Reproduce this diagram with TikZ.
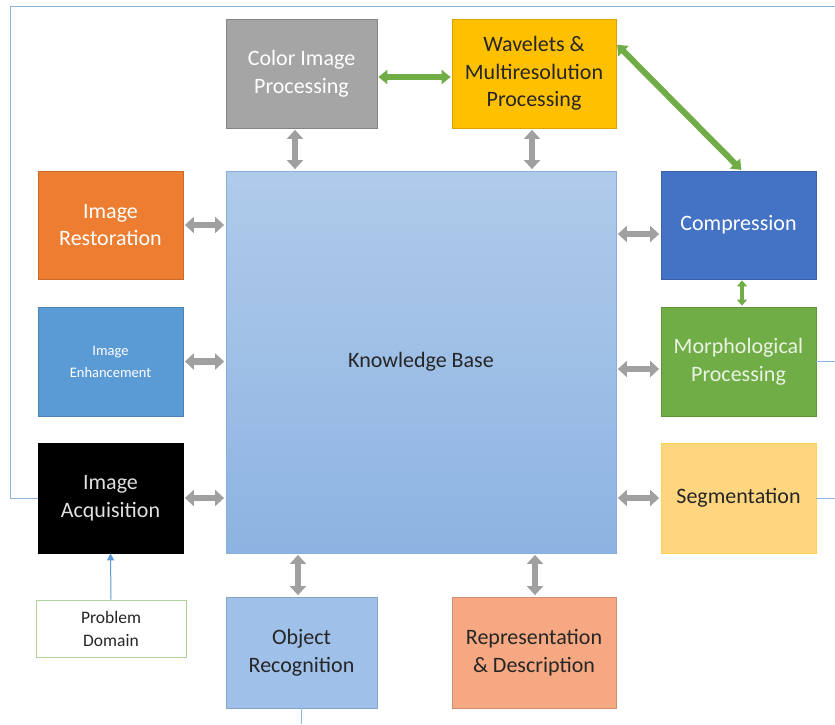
\documentclass[tikz,border=0pt]{standalone}
\usepackage{fontspec}
\setmainfont{Carlito}
\usetikzlibrary{arrows.meta}
\definecolor{cgray}{HTML}{A5A5A5}
\definecolor{cgold}{HTML}{FFC000}
\definecolor{corange}{HTML}{ED7D31}
\definecolor{cblue}{HTML}{5B9BD5}
\definecolor{cdblue}{HTML}{4472C4}
\definecolor{cgreen}{HTML}{70AD47}
\definecolor{cyellow}{HTML}{FFD680}
\definecolor{clblue}{HTML}{9FC0E8}
\definecolor{csalmon}{HTML}{F5A882}
\definecolor{kbtop}{HTML}{B0CBEA}
\definecolor{kbbot}{HTML}{8DB3E2}
\definecolor{kbline}{HTML}{8AAEDB}
\definecolor{lnblue}{HTML}{8FB4DD}
\definecolor{darktxt}{HTML}{262626}
\definecolor{arrgray}{HTML}{A0A0A0}
\begin{document}
\begin{tikzpicture}[x=1pt,y=-1pt,
  box/.style={draw, line width=0.8pt, align=center, inner sep=0pt,
    font=\fontsize{22}{27.5}\selectfont},
  garrow/.style={arrgray, line width=6.5pt,
    {Triangle[width=16pt,length=9pt]}-{Triangle[width=16pt,length=9pt]},
    shorten <=1.5pt, shorten >=1.5pt},
  grarrow/.style={cgreen, line width=6pt,
    {Triangle[width=14pt,length=9pt]}-{Triangle[width=14pt,length=9pt]},
    shorten <=1pt, shorten >=1pt},
  thinline/.style={lnblue, line width=1pt}]
\useasboundingbox (0,0) rectangle (835,724);
\fill[white] (0,0) rectangle (835,724);

% boxes
\node[box, fill=cgray, draw=cgray!80!black, text=white, minimum width=151pt, minimum height=109pt]
  (color) at (301.5,73.5) {Color Image\\Processing};
\node[box, fill=cgold, draw=cgold!85!black, text=darktxt, minimum width=164pt, minimum height=109pt]
  (wave) at (534,73.5) {Wavelets \&\\Multiresolution\\Processing};
\node[box, top color=kbtop, bottom color=kbbot, draw=kbline, text=darktxt, minimum width=390pt, minimum height=382pt]
  (kb) at (421,362) {Knowledge Base};
\node[box, fill=corange, draw=corange!85!black, text=white, minimum width=145pt, minimum height=108pt]
  (rest) at (110.5,225) {Image\\Restoration};
\node[box, fill=cblue, draw=cblue!85!black, text=white, minimum width=145pt, minimum height=109pt,
  font=\fontsize{14.5}{22}\selectfont]
  (enh) at (110.5,361.5) {Image\\Enhancement};
\node[box, fill=black, draw=black, text=white!88!black, minimum width=145pt, minimum height=110pt]
  (acq) at (110.5,498) {Image\\Acquisition};
\node[box, fill=cdblue, draw=cdblue!85!black, text=white, minimum width=155pt, minimum height=108pt]
  (comp) at (738.5,225) {Compression};
\node[box, fill=cgreen, draw=cgreen!85!black, text=white!85!cgreen, minimum width=155pt, minimum height=109pt]
  (morph) at (738.5,361.5) {Morphological\\Processing};
\node[box, fill=cyellow, draw=cgold!70!white, text=darktxt, minimum width=155pt, minimum height=110pt]
  (seg) at (738.5,498) {Segmentation};
\node[box, fill=white, draw=cgreen!55!white, text=darktxt, minimum width=150pt, minimum height=57pt,
  font=\fontsize{17.5}{23}\selectfont]
  (prob) at (111,628.5) {Problem\\Domain};
\node[box, fill=clblue, draw=clblue!85!black, text=darktxt, minimum width=151pt, minimum height=111pt]
  (obj) at (301.5,652.5) {Object\\Recognition};
\node[box, fill=csalmon, draw=csalmon!85!black, text=darktxt, minimum width=164pt, minimum height=111pt]
  (rep) at (534,652.5) {Representation\\\& Description};

% gray connectors to knowledge base
\draw[garrow] ([xshift=-6.5pt]color.south) -- ([xshift=-6.5pt]color.south |- kb.north);
\draw[garrow] ([xshift=-2pt]wave.south) -- ([xshift=-2pt]wave.south |- kb.north);
\draw[garrow] (rest.east) -- (rest.east -| kb.west);
\draw[garrow] (enh.east) -- (enh.east -| kb.west);
\draw[garrow] (acq.east) -- (acq.east -| kb.west);
\draw[garrow] ([yshift=-9pt]comp.west) -- ([yshift=-9pt]comp.west -| kb.east);
\draw[garrow] ([yshift=-7.5pt]morph.west) -- ([yshift=-7.5pt]morph.west -| kb.east);
\draw[garrow] (seg.west) -- (seg.west -| kb.east);
\draw[garrow] ([xshift=-3.5pt]obj.north) -- ([xshift=-3.5pt]obj.north |- kb.south);
\draw[garrow] ([xshift=1pt]rep.north) -- ([xshift=1pt]rep.north |- kb.south);

% green connectors
\draw[grarrow] ([yshift=-3.5pt]color.east) -- ([yshift=-3.5pt]wave.west);
\draw[grarrow] ([yshift=29.5pt]wave.east) -- ([xshift=3.5pt]comp.north);
\draw[grarrow, line width=4pt, {Triangle[width=10pt,length=6pt]}-{Triangle[width=10pt,length=6pt]}]
  ([xshift=3.5pt]comp.south) -- ([xshift=3.5pt]morph.north);

% thin blue lines
\coordinate (lt) at (10,6);
\coordinate (rt) at (835,6);
\coordinate (mr) at (835,361.5);
\coordinate (sr) at (835,498);
\coordinate (ob) at (301.5,724);
\draw[thinline] (acq.west) -| (lt) -- (rt);
\draw[thinline] (morph.east) -- (mr);
\draw[thinline] (seg.east) -- (sr);
\draw[thinline] (obj.south) -- (ob);
\draw[cblue, line width=1pt, -{Triangle[width=7pt,length=7pt]}] (prob.north) -- (acq.south);
\end{tikzpicture}
\end{document}
